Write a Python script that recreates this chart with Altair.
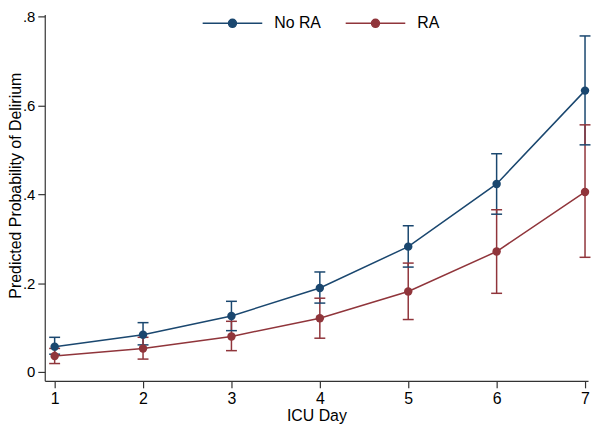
import altair as alt
import pandas as pd

days = [1, 2, 3, 4, 5, 6, 7]
groups = ["No RA", "RA"]
no_ra = [0.057, 0.084, 0.126, 0.189, 0.282, 0.423, 0.633]
no_ra_lo = [0.040, 0.061, 0.093, 0.155, 0.236, 0.355, 0.511]
no_ra_hi = [0.078, 0.111, 0.159, 0.225, 0.329, 0.491, 0.756]
ra = [0.036, 0.053, 0.080, 0.121, 0.181, 0.271, 0.405]
ra_lo = [0.019, 0.029, 0.048, 0.076, 0.118, 0.177, 0.258]
ra_hi = [0.053, 0.078, 0.114, 0.166, 0.245, 0.365, 0.556]
y_ticks = [0, 0.2, 0.4, 0.6, 0.8]

rows = []
for g, m, lo, hi in [(groups[0], no_ra, no_ra_lo, no_ra_hi), (groups[1], ra, ra_lo, ra_hi)]:
    for d, v, l, h in zip(days, m, lo, hi):
        rows.append({"day": d, "group": g, "p": v, "lo": l, "hi": h})
df = pd.DataFrame(rows)

BLUE = "#1a476f"
RED = "#90353b"
FONT = "Liberation Sans"

cscale = alt.Scale(domain=groups, range=[BLUE, RED])
SYMBOL = "M-3,0H3M-0.4,0A0.4,0.4,0,1,1,0.4,0A0.4,0.4,0,1,1,-0.4,0Z"


def make_legend(**extra):
    return alt.Legend(
        title=None,
        orient="none",
        legendX=178,
        legendY=-2,
        direction="horizontal",
        symbolType=SYMBOL,
        symbolSize=400,
        symbolStrokeWidth=1.5,
        symbolOpacity=1,
        labelOffset=31,
        columnPadding=21,
        labelFontSize=16,
        labelFont=FONT,
        labelColor="black",
        padding=0,
        **extra,
    )


x = alt.X(
    "day:Q",
    scale=alt.Scale(domain=[0.888, 7.034], nice=False, zero=False),
    axis=alt.Axis(values=days, title="ICU Day", format="d"),
)
y = alt.Y(
    "p:Q",
    scale=alt.Scale(domain=[-0.02, 0.8045], nice=False, zero=False),
    axis=alt.Axis(
        values=y_ticks,
        title="Predicted Probability of Delirium",
        labelExpr="datum.value == 0 ? '0' : replace(format(datum.value, '.1f'), '0.', '.')",
        titleX=-21,
        titleY=172,
    ),
)

base = alt.Chart(df)
color_nolegend = alt.Color("group:N", scale=cscale, legend=None)

bars = base.mark_rule(strokeWidth=1.5).encode(
    x="day:Q", y="lo:Q", y2="hi:Q", color=color_nolegend
)
cap_lo = base.mark_tick(orient="horizontal", size=11, thickness=1.5, opacity=1).encode(
    x="day:Q", y="lo:Q", color=color_nolegend
)
cap_hi = base.mark_tick(orient="horizontal", size=11, thickness=1.5, opacity=1).encode(
    x="day:Q", y="hi:Q", color=color_nolegend
)
lines = base.mark_line(strokeWidth=1.5).encode(
    x=x, y=y, color=alt.Color("group:N", scale=cscale, legend=make_legend())
)
points = base.mark_circle(size=72, opacity=1).encode(
    x="day:Q",
    y="p:Q",
    fill=alt.Fill(
        "group:N",
        scale=cscale,
        legend=make_legend(symbolStrokeColor="transparent", labelOpacity=0),
    ),
)

chart = (
    alt.layer(bars, cap_lo, cap_hi, lines, points)
    .resolve_legend(color="independent", fill="independent")
    .properties(
        width=547,
        height=369,
        autosize=alt.AutoSizeParams(type="none"),
        padding={"left": 37, "top": 5, "right": 4, "bottom": 44},
        background="white",
    )
    .configure_view(stroke=None)
    .configure_axis(
        grid=False,
        domainColor="#333333",
        domainWidth=1.2,
        tickColor="#333333",
        tickWidth=1.2,
        tickSize=7,
        labelFont=FONT,
        labelColor="black",
        titleFont=FONT,
        titleFontSize=16,
        titleFontWeight="normal",
        titleColor="black",
    )
    .configure_axisX(labelFontSize=16, labelPadding=3, titlePadding=1)
    .configure_axisY(labelFontSize=15, labelPadding=3)
)

chart.save("out.html", embed_options={"renderer": "svg", "actions": False})
